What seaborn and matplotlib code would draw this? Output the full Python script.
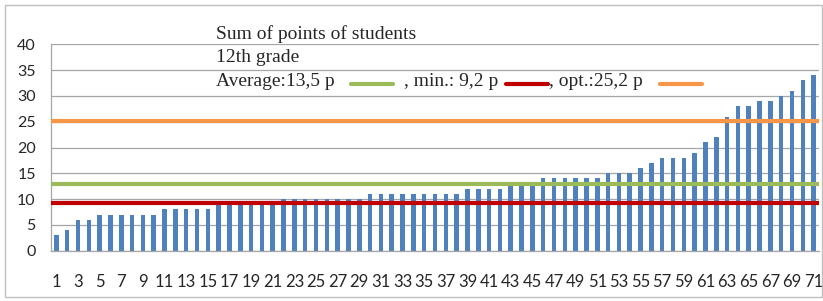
import numpy as np
import pandas as pd
import matplotlib
matplotlib.use("Agg")
import matplotlib.pyplot as plt
import seaborn as sns
from matplotlib.lines import Line2D
from matplotlib.patches import Rectangle

# points per student, sorted ascending
students = list(range(1, 72))
points = [3, 4, 6, 6, 7, 7, 7, 7, 7, 7,
          8, 8, 8, 8, 8, 9, 9, 9, 9, 9,
          9, 10, 10, 10, 10, 10, 10, 10, 10, 11,
          11, 11, 11, 11, 11, 11, 11, 11, 12, 12,
          12, 12, 13, 13, 13, 14, 14, 14, 14, 14,
          14, 15, 15, 15, 16, 17, 18, 18, 18, 19,
          21, 22, 26, 28, 28, 29, 29, 30, 31, 33,
          34]

title_lines = ["Sum of points of students", "12th grade"]
ref_labels = ["Average:13,5 p", ", min.: 9,2 p", ", opt.:25,2 p"]
ref_values = [13.0, 9.3, 25.2]
ref_colors = ["#9BBB59", "#C00000", "#F79646"]

sns.set_style("white")
plt.rcParams["font.family"] = ["Lato", "DejaVu Sans"]

W, H = 823, 301
fig = plt.figure(figsize=(W / 100, H / 100), dpi=100)
ax = fig.add_axes([51 / W, 1 - 250.7 / H, (819 - 51) / W, (250.7 - 44.3) / H])

df = pd.DataFrame({"student": students, "points": points})
sns.barplot(data=df, x="student", y="points", color="#4F81BD",
            width=0.42, saturation=1, linewidth=0, ax=ax, zorder=2)

for v, c in zip(ref_values, ref_colors):
    ax.axhline(v, color=c, lw=3, zorder=3)

grid_c = "#A6A6A6"
ax.set_ylim(0, 40)
ax.set_yticks(range(0, 41, 5))
ax.yaxis.grid(True, color=grid_c, linewidth=0.9)
ax.set_axisbelow(True)
ax.set_xlim(-0.5, len(students) - 0.5)
ax.set_xticks(range(0, len(students), 2))
ax.set_xticklabels(students[::2])
ax.set_xticks(np.arange(-0.5, len(students), 1), minor=True)
ax.tick_params(axis="x", which="major", length=0, pad=17, labelsize=12)
ax.tick_params(axis="x", which="minor", length=5.5, color=grid_c, width=0.8)
ax.tick_params(axis="y", length=3, color=grid_c, width=0.8, pad=8, labelsize=11.5)
ax.set_xlabel("")
ax.set_ylabel("")
for s in ["top", "right"]:
    ax.spines[s].set_visible(False)
for s in ["left", "bottom"]:
    ax.spines[s].set_color(grid_c)
    ax.spines[s].set_linewidth(0.9)

# title block with inline legend keys
serif = "Liberation Serif"
fs = 14
fig.text(216 / W, 1 - 39 / H, title_lines[0], family=serif, fontsize=fs, va="baseline")
fig.text(216 / W, 1 - 62.3 / H, title_lines[1], family=serif, fontsize=fs, va="baseline")
label_x = [216, 404, 549]
key_x = [(351, 393), (506, 548), (660, 702)]
for lab, lx, (k0, k1), c in zip(ref_labels, label_x, key_x, ref_colors):
    fig.text(lx / W, 1 - 85.7 / H, lab, family=serif, fontsize=fs, va="baseline")
    fig.add_artist(Line2D([k0 / W, k1 / W], [1 - 84 / H] * 2,
                          transform=fig.transFigure, color=c, lw=3))

fig.add_artist(Rectangle((5 / W, 4 / H), (W - 6) / W, (H - 9) / H,
                         transform=fig.transFigure, fill=False,
                         edgecolor="#BFBFBF", lw=1))

fig.savefig("out.png", dpi=100)
